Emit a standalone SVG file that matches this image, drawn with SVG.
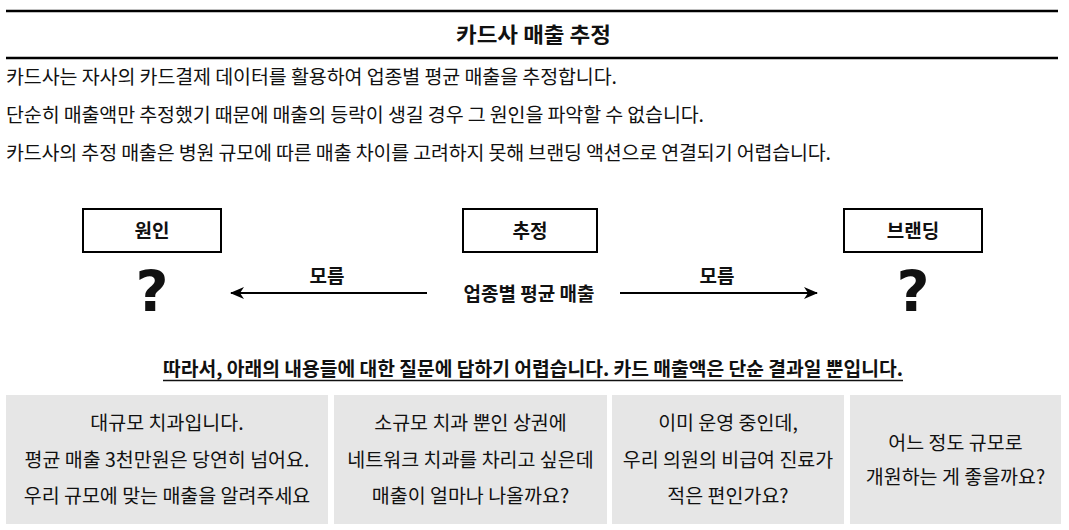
<svg xmlns="http://www.w3.org/2000/svg" width="1069" height="530" viewBox="0 0 1069 530">
<defs>
<style>
text{font-family:"Noto Sans CJK KR","Noto Sans",sans-serif;fill:#111}
.b{font-weight:bold}
.t{font-size:19.5px}
.c{text-anchor:middle}
.lbl{font-size:19px;font-weight:bold;text-anchor:middle}
.q{font-family:"DejaVu Sans",sans-serif;font-size:57px;font-weight:bold;text-anchor:middle}
.box{fill:#fff;stroke:#000;stroke-width:2}
.gbox{fill:#e6e6e6}
.rule{stroke:#000;stroke-width:2.5}
.conn{stroke:#000;stroke-width:2;fill:none}
</style>
<marker id="ah" viewBox="0 0 14 12" refX="13" refY="6" markerWidth="14" markerHeight="12" markerUnits="userSpaceOnUse" orient="auto">
<path d="M0,0 L14,6 L0,12 L4,6 Z" fill="#000"/>
</marker>
</defs>
<rect width="1069" height="530" fill="#fff"/>
<g id="header">
<line class="rule" x1="6" y1="11" x2="1058" y2="11"/>
<line class="rule" x1="6" y1="58" x2="1058" y2="58"/>
<text class="b c" x="533.5" y="42" font-size="21" textLength="155" lengthAdjust="spacingAndGlyphs">카드사 매출 추정</text>
</g>
<g id="intro" class="t">
<text x="6" y="84" textLength="611">카드사는 자사의 카드결제 데이터를 활용하여 업종별 평균 매출을 추정합니다.</text>
<text x="6" y="122" textLength="698">단순히 매출액만 추정했기 때문에 매출의 등락이 생길 경우 그 원인을 파악할 수 없습니다.</text>
<text x="6" y="160" textLength="825">카드사의 추정 매출은 병원 규모에 따른 매출 차이를 고려하지 못해 브랜딩 액션으로 연결되기 어렵습니다.</text>
</g>
<g id="node-cause">
<rect class="box" x="83" y="209" width="138" height="43"/>
<text class="lbl" x="152" y="238">원인</text>
<text class="q" x="152" y="312">?</text>
</g>
<g id="node-estimate">
<rect class="box" x="463" y="209" width="134" height="43"/>
<text class="lbl" x="530" y="238">추정</text>
<text class="lbl" x="529" y="301">업종별 평균 매출</text>
</g>
<g id="node-branding">
<rect class="box" x="844" y="209" width="138" height="43"/>
<text class="lbl" x="913" y="238">브랜딩</text>
<text class="q" x="913" y="312">?</text>
</g>
<g id="connectors">
<line class="conn" x1="427" y1="293" x2="231" y2="293" marker-end="url(#ah)"/>
<text class="lbl" x="327" y="283">모름</text>
<line class="conn" x1="620" y1="293" x2="817" y2="293" marker-end="url(#ah)"/>
<text class="lbl" x="717" y="283">모름</text>
</g>
<g id="conclusion">
<text class="b t" x="163" y="376" textLength="740" lengthAdjust="spacingAndGlyphs">따라서, 아래의 내용들에 대한 질문에 답하기 어렵습니다. 카드 매출액은 단순 결과일 뿐입니다.</text>
<line x1="163" y1="380.5" x2="903" y2="380.5" stroke="#111" stroke-width="1.5"/>
</g>
<g id="q1">
<rect class="gbox" x="6" y="395" width="322" height="129"/>
<text class="t c" x="167" y="430">대규모 치과입니다.</text>
<text class="t c" x="167" y="467">평균 매출 3천만원은 당연히 넘어요.</text>
<text class="t c" x="167" y="503">우리 규모에 맞는 매출을 알려주세요</text>
</g>
<g id="q2">
<rect class="gbox" x="334" y="395" width="273" height="129"/>
<text class="t c" x="470.5" y="430">소규모 치과 뿐인 상권에</text>
<text class="t c" x="470.5" y="467">네트워크 치과를 차리고 싶은데</text>
<text class="t c" x="470.5" y="503">매출이 얼마나 나올까요?</text>
</g>
<g id="q3">
<rect class="gbox" x="612" y="395" width="232" height="129"/>
<text class="t c" x="728" y="430">이미 운영 중인데,</text>
<text class="t c" x="728" y="467">우리 의원의 비급여 진료가</text>
<text class="t c" x="728" y="503">적은 편인가요?</text>
</g>
<g id="q4">
<rect class="gbox" x="850" y="395" width="211" height="129"/>
<text class="t c" x="955.5" y="450">어느 정도 규모로</text>
<text class="t c" x="955.5" y="484">개원하는 게 좋을까요?</text>
</g>
</svg>
